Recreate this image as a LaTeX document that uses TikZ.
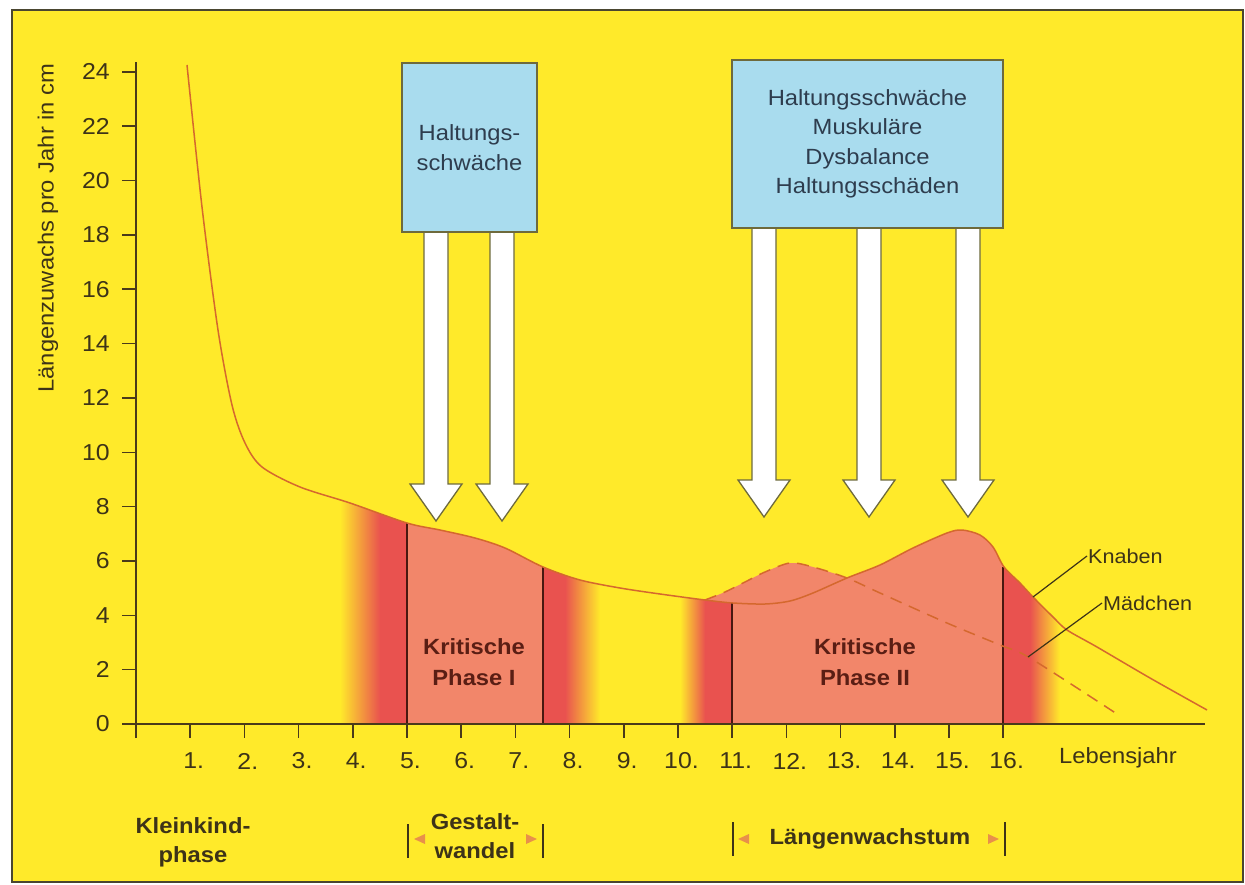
\documentclass[tikz,border=0pt]{standalone}
\usepackage{fontspec}
\setmainfont[FakeStretch=1.08]{Liberation Sans}
\definecolor{yel}{HTML}{FFEA2A}
\definecolor{sal}{HTML}{F2866A}
\definecolor{rd}{HTML}{E9524F}
\definecolor{bluebox}{HTML}{A9DCEE}
\definecolor{frame}{HTML}{4A4630}
\definecolor{axis}{HTML}{4A3A1A}
\definecolor{curve}{HTML}{D5682E}
\definecolor{txt}{HTML}{3D3318}
\definecolor{boxtxt}{HTML}{2E3D4E}
\definecolor{crit}{HTML}{5A1E14}
\definecolor{outl}{HTML}{6E6A3C}
\definecolor{orng}{HTML}{E8904A}
\begin{document}
\begin{tikzpicture}[x=1pt,y=-1pt,
  axisline/.style={draw=axis,line width=1.6},
  vline/.style={draw=crit!80!black,line width=1.4},
  curveline/.style={draw=curve,line width=1.5},
  dashline/.style={draw=curve,line width=1.5,dash pattern=on 12pt off 8pt},
  ticklbl/.style={font=\fontsize{23}{26}\selectfont,text=txt,inner sep=0},
  lbl/.style={font=\fontsize{22}{29}\selectfont,text=txt,inner sep=0,align=center},
  blbl/.style={font=\fontsize{22}{29}\selectfont\bfseries,text=txt,inner sep=0,align=center},
  critlbl/.style={font=\fontsize{22}{31}\selectfont\bfseries,text=crit,inner sep=0,align=center},
  infobox/.style={draw=outl,line width=1.3,fill=bluebox,font=\fontsize{22}{29.5}\selectfont,text=boxtxt,align=center,inner sep=0},
  arrowline/.style={draw=outl,line width=1.3,fill=white},
  leader/.style={draw=txt,line width=1.2},
  bar/.style={draw=txt,line width=1.5},
  bigarrow/.pic={\filldraw[arrowline] (-12,0) -- (-12,252) -- (-26,252) -- (0,289) -- (26,252) -- (12,252) -- (12,0) -- cycle;}
]
\useasboundingbox (0,0) rectangle (1245,885);
\fill[white] (0,0) rectangle (1245,885);
\draw[line width=2,draw=frame,fill=yel] (12,10) rectangle (1243,882);

% fills under the dashed curve (Maedchen)
\begin{scope}
\clip (705,724) -- plot[smooth,tension=0.5] coordinates {(705,600) (725,592) (745,582) (765,572) (790,563) (813,567) (847,578) (880,593) (947,623) (1000,645) (1030,658) (1117,714)} -- (1117,724) -- cycle;
\fill[sal] (700,500) rectangle (1003,730);
\fill[rd] (1003,500) rectangle (1030,730);
\shade[left color=rd,right color=yel] (1030,500) rectangle (1060,730);
\end{scope}
% fills under the solid curve (Knaben)
\begin{scope}
\clip (187,724) -- plot[smooth,tension=0.5] coordinates {(187,65) (202,207) (218,330) (232,405) (245,443) (262,467) (300,487) (350,503) (407,523) (440,530) (475,538) (505,548) (543,567) (580,580) (620,588) (660,594) (705,600) (733,603) (765,604) (790,601) (813,593) (847,578) (880,565) (913,548) (947,533) (962,530) (980,535) (993,547) (1004,567) (1020,583) (1033,597) (1053,617) (1067,630) (1097,647) (1150,678) (1207,710)} -- (1207,724) -- cycle;
\shade[left color=yel,right color=rd] (340,0) rectangle (380,730);
\fill[rd] (380,0) rectangle (407,730);
\fill[sal] (407,0) rectangle (543,730);
\fill[rd] (543,0) rectangle (565,730);
\shade[left color=rd,right color=yel] (565,0) rectangle (600,730);
\shade[left color=yel,right color=rd] (680,0) rectangle (705,730);
\fill[rd] (705,0) rectangle (732,730);
\fill[sal] (732,0) rectangle (1003,730);
\fill[rd] (1003,0) rectangle (1030,730);
\shade[left color=rd,right color=yel] (1030,0) rectangle (1060,730);
\end{scope}

% phase boundaries
\coordinate (p5t) at (407,523);   \coordinate (p5b) at (407,724);
\coordinate (p75t) at (543,567);  \coordinate (p75b) at (543,724);
\coordinate (p11t) at (732,603);  \coordinate (p11b) at (732,724);
\coordinate (p16t) at (1003,567); \coordinate (p16b) at (1003,724);
\draw[vline] (p5t) -- (p5b);
\draw[vline] (p75t) -- (p75b);
\draw[vline] (p11t) -- (p11b);
\draw[vline] (p16t) -- (p16b);

% curves
\draw[curveline] plot[smooth,tension=0.5] coordinates {(187,65) (202,207) (218,330) (232,405) (245,443) (262,467) (300,487) (350,503) (407,523) (440,530) (475,538) (505,548) (543,567) (580,580) (620,588) (660,594) (705,600) (733,603) (765,604) (790,601) (813,593) (847,578) (880,565) (913,548) (947,533) (962,530) (980,535) (993,547) (1004,567) (1020,583) (1033,597) (1053,617) (1067,630) (1097,647) (1150,678) (1207,710)};
\draw[dashline] plot[smooth,tension=0.5] coordinates {(705,600) (725,592) (745,582) (765,572) (790,563) (813,567) (847,578) (880,593) (947,623) (1000,645) (1030,658) (1117,714)};

% axes
\coordinate (xa0) at (122,724); \coordinate (xa1) at (1205,724);
\coordinate (ya0) at (136,738); \coordinate (ya1) at (136,62);
\draw[axisline] (xa0) -- (xa1);
\draw[axisline] (ya0) -- (ya1);
\foreach \v in {0,2,...,24}{
  \draw[axisline] (122,{724-27.17*\v}) -- (136,{724-27.17*\v});
  \node[ticklbl,anchor=east] at (110,{724-27.17*\v}) {\v};
}
\foreach \t in {1,...,16}{
  \draw[axisline] ({136+54.2*\t},724) -- ({136+54.2*\t},738);
  \node[ticklbl] at ({136+54.2*\t},761) {\phantom{.}\t.};
}
\node[lbl] (lj) at (1118,758) {Lebensjahr};
\node[lbl,rotate=90] (ylab) at (48,228) {Längenzuwachs pro Jahr in cm};

% arrows and boxes
\pic at (436,232) {bigarrow};
\pic at (502,232) {bigarrow};
\pic at (764,228) {bigarrow};
\pic at (869,228) {bigarrow};
\pic at (968,228) {bigarrow};
\node[infobox,minimum width=135,minimum height=169] (box1) at (469.5,147.5) {Haltungs-\\schwäche};
\node[infobox,minimum width=271,minimum height=168] (box2) at (867.5,144) {Haltungsschwäche\\Muskuläre\\Dysbalance\\Haltungsschäden};

% phase labels
\node[critlbl] (k1) at (474,662) {Kritische\\Phase I};
\node[critlbl] (k2) at (865,662) {Kritische\\Phase II};

% curve labels
\node[lbl,font=\fontsize{20}{24}\selectfont,anchor=west,inner sep=1] (knaben) at (1087,556) {Knaben};
\node[lbl,font=\fontsize{20}{24}\selectfont,anchor=west,inner sep=1] (maedchen) at (1102,603) {Mädchen};
\coordinate (kpt) at (1033,597);
\coordinate (mpt) at (1028,657);
\draw[leader] (kpt) -- (knaben.west);
\draw[leader] (mpt) -- (maedchen.west);

% bottom labels
\node[blbl] (kk) at (193,842) {Kleinkind-\\phase};
\node[blbl] (gw) at (475,836) {Gestalt-\\wandel};
\node[blbl] (lw) at (870,839) {Längenwachstum};
\coordinate (g1a) at (408,824); \coordinate (g1b) at (408,858);
\coordinate (g2a) at (543,824); \coordinate (g2b) at (543,858);
\coordinate (l1a) at (733,822); \coordinate (l1b) at (733,856);
\coordinate (l2a) at (1005,822); \coordinate (l2b) at (1005,856);
\draw[bar] (g1a) -- (g1b);
\draw[bar] (g2a) -- (g2b);
\draw[bar] (l1a) -- (l1b);
\draw[bar] (l2a) -- (l2b);
\fill[orng] (414,839) -- (425,834) -- (425,844) -- cycle;
\fill[orng] (537,839) -- (526,834) -- (526,844) -- cycle;
\fill[orng] (738,839) -- (749,834) -- (749,844) -- cycle;
\fill[orng] (999,839) -- (988,834) -- (988,844) -- cycle;
\end{tikzpicture}
\end{document}
